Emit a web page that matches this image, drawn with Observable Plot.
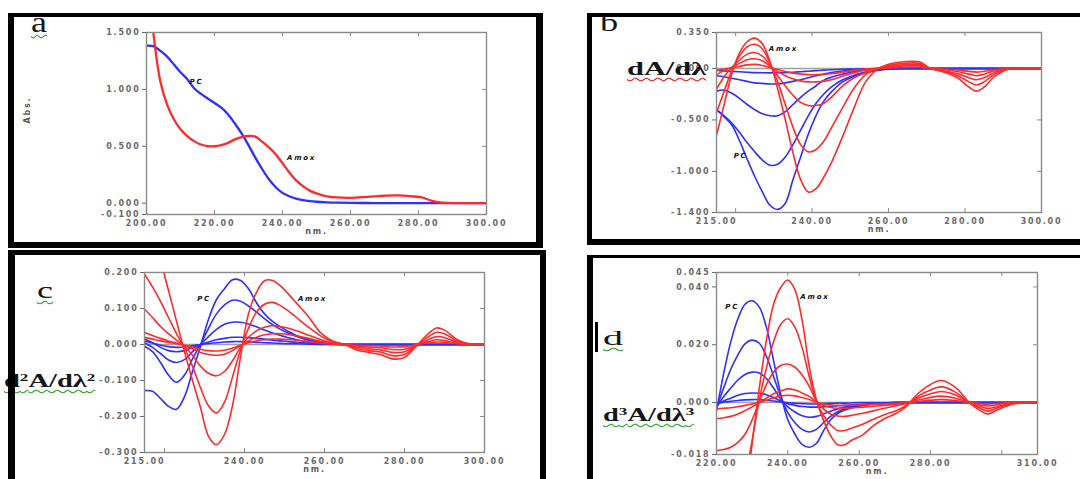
<!DOCTYPE html>
<html><head><meta charset="utf-8">
<script src="https://cdn.jsdelivr.net/npm/d3@7"></script>
<script src="https://cdn.jsdelivr.net/npm/@observablehq/plot@0.6"></script>
<style>
html,body{margin:0;padding:0;background:#fff;}
#page{position:relative;width:1080px;height:479px;overflow:hidden;background:#fff;}
.pw{position:absolute;z-index:2;}
.box{position:absolute;border-style:solid;border-color:#000;box-sizing:border-box;z-index:6;pointer-events:none;}
.lab{position:absolute;font-family:"Liberation Serif","DejaVu Serif",serif;color:#151515;white-space:nowrap;z-index:4;line-height:1;transform-origin:0 0;}
.wg{text-decoration:underline wavy #2ca02c;text-decoration-thickness:1px;text-underline-offset:2px;}
.wr{text-decoration:underline wavy #e02020;text-decoration-thickness:1px;text-underline-offset:2px;}
.lab sup{font-size:0.6em;vertical-align:0.55em;line-height:0;}
</style>
</head><body>
<div id="page"></div>
<script>
// ---------------- data ----------------
// panel a : absorption spectra
const aX = [200,202,204,206,208,210,212,214,216,218,220,222,224,226,228,230,232,234,236,238,240,242,244,246,248,250,253,256,260,265,270,274,278,281,284,287,290,295,300];
const aAmox = [2.1,1.50,1.08,0.87,0.74,0.65,0.59,0.545,0.515,0.50,0.50,0.51,0.53,0.56,0.58,0.59,0.585,0.54,0.49,0.43,0.35,0.27,0.20,0.15,0.11,0.085,0.06,0.05,0.047,0.055,0.065,0.068,0.06,0.05,0.02,0.005,0,0,0];
const aPC = [1.385,1.38,1.34,1.29,1.22,1.15,1.09,1.01,0.96,0.92,0.88,0.84,0.78,0.70,0.61,0.51,0.40,0.30,0.21,0.14,0.09,0.06,0.04,0.027,0.018,0.012,0.007,0.004,0.002,0.001,0,0,0,0,0,0,0,0,0];
const aYTicks = [1.5,1.0,0.5,0.0,-0.1];
const aXLabels = [200,220,240,260,280,300];
const aXInner = [220,240,260,280];
const aNotes = [{x:214.7,y:1.07,t:"PC"},{x:245.6,y:0.40,t:"Amox"}];

// panel b : first derivative
const bX = [215,217,219,221,223,225,227,229,231,233,235,237,239,241,243,245,248,251,254,257,260,264,268,271,274,278,281,283,285,288,292,296,300];
const bRed1 = [-0.65,-0.35,-0.05,0.15,0.26,0.295,0.24,0.065,-0.2,-0.5,-0.82,-1.08,-1.20,-1.17,-1.06,-0.92,-0.66,-0.38,-0.13,-0.01,0.04,0.065,0.065,0.0,-0.03,-0.09,-0.18,-0.22,-0.18,-0.07,0.0,0,0];
const bRed2 = [-0.43,-0.22,-0.02,0.12,0.21,0.235,0.19,0.05,-0.13,-0.35,-0.57,-0.74,-0.81,-0.79,-0.71,-0.58,-0.38,-0.19,-0.06,0.0,0.03,0.05,0.05,0.0,-0.025,-0.07,-0.13,-0.16,-0.13,-0.05,0,0,0];
const bRed3 = [-0.20,-0.08,0.01,0.08,0.14,0.155,0.12,0.03,-0.07,-0.17,-0.26,-0.33,-0.36,-0.36,-0.34,-0.28,-0.17,-0.09,-0.04,0.0,0.02,0.035,0.035,0.0,-0.02,-0.05,-0.09,-0.11,-0.09,-0.035,0,0,0];
const bRed4 = [-0.06,-0.02,0.01,0.05,0.085,0.095,0.075,0.02,-0.03,-0.07,-0.10,-0.12,-0.13,-0.13,-0.125,-0.11,-0.075,-0.04,-0.015,0.0,0.01,0.025,0.025,0.0,-0.01,-0.03,-0.055,-0.07,-0.055,-0.02,0,0,0];
const bRed5 = [-0.02,-0.005,0.005,0.02,0.035,0.04,0.03,0.01,-0.01,-0.03,-0.045,-0.055,-0.06,-0.06,-0.058,-0.05,-0.035,-0.018,-0.006,0.0,0.005,0.012,0.012,0.0,-0.005,-0.015,-0.028,-0.035,-0.028,-0.01,0,0,0];
const bBlue1 = [-0.40,-0.47,-0.55,-0.70,-0.88,-1.05,-1.20,-1.33,-1.37,-1.31,-1.08,-0.86,-0.64,-0.46,-0.32,-0.23,-0.13,-0.075,-0.04,-0.02,-0.005,0,0,0,0,0,0,0,0,0,0,0,0];
const bBlue2 = [-0.40,-0.46,-0.53,-0.62,-0.72,-0.81,-0.89,-0.94,-0.93,-0.86,-0.74,-0.60,-0.46,-0.34,-0.25,-0.18,-0.11,-0.065,-0.035,-0.015,-0.005,0,0,0,0,0,0,0,0,0,0,0,0];
const bBlue3 = [-0.22,-0.21,-0.24,-0.29,-0.35,-0.40,-0.44,-0.46,-0.46,-0.42,-0.35,-0.28,-0.22,-0.17,-0.115,-0.085,-0.055,-0.03,-0.015,-0.007,-0.002,0,0,0,0,0,0,0,0,0,0,0,0];
const bBlue4 = [-0.07,-0.08,-0.095,-0.11,-0.125,-0.14,-0.145,-0.15,-0.15,-0.14,-0.125,-0.11,-0.09,-0.07,-0.055,-0.04,-0.025,-0.015,-0.008,-0.004,0,0,0,0,0,0,0,0,0,0,0,0,0];
const bBlue5 = [-0.02,-0.024,-0.028,-0.032,-0.036,-0.04,-0.042,-0.043,-0.042,-0.04,-0.036,-0.031,-0.026,-0.021,-0.016,-0.012,-0.008,-0.005,-0.003,-0.001,0,0,0,0,0,0,0,0,0,0,0,0,0];
const bYTicks = [0.35,0.0,-0.5,-1.0,-1.4];
const bXLabels = [215,240,260,280,300];
const bXInner = [220,240,260,280];
const bNotes = [{x:232.5,y:0.19,t:"Amox"},{x:221.3,y:-0.85,t:"PC"}];

// panel c : second derivative
const cX = [215,217,219,221,223,225,227,229,231,233,235,237,239,241,243,245,247,249,251,253,256,259,262,265,268,271,274,277,280,283,286,288,290,293,296,300];
const cRed1 = [0.40,0.32,0.235,0.15,0.065,-0.02,-0.10,-0.175,-0.255,-0.278,-0.25,-0.17,-0.035,0.085,0.145,0.177,0.178,0.163,0.14,0.115,0.077,0.033,0.01,0.0,-0.015,-0.022,-0.028,-0.04,-0.036,-0.003,0.03,0.046,0.04,0.015,0.002,0];
const cRed2 = [0.195,0.16,0.12,0.075,0.03,-0.01,-0.06,-0.12,-0.17,-0.19,-0.16,-0.09,-0.015,0.045,0.09,0.112,0.117,0.108,0.093,0.075,0.048,0.024,0.008,0.0,-0.011,-0.017,-0.021,-0.031,-0.028,-0.003,0.022,0.034,0.03,0.011,0.002,0];
const cRed3 = [0.098,0.075,0.05,0.03,0.012,-0.005,-0.03,-0.06,-0.08,-0.087,-0.075,-0.045,-0.008,0.02,0.038,0.048,0.052,0.05,0.045,0.038,0.026,0.014,0.005,0,-0.007,-0.012,-0.015,-0.022,-0.02,-0.002,0.014,0.022,0.019,0.007,0.001,0];
const cRed4 = [0.033,0.025,0.017,0.01,0.004,-0.003,-0.012,-0.022,-0.028,-0.03,-0.027,-0.017,-0.003,0.01,0.02,0.027,0.03,0.03,0.028,0.024,0.017,0.009,0.003,0,-0.004,-0.007,-0.009,-0.014,-0.013,-0.001,0.008,0.013,0.011,0.004,0.001,0];
const cRed5 = [0.02,0.015,0.01,0.006,0.002,-0.002,-0.007,-0.013,-0.017,-0.018,-0.016,-0.01,-0.002,0.005,0.01,0.013,0.015,0.015,0.014,0.012,0.008,0.004,0.001,0,-0.002,-0.003,-0.004,-0.007,-0.006,0,0.004,0.007,0.006,0.002,0,0];
const cBlue1 = [-0.128,-0.13,-0.15,-0.172,-0.18,-0.145,-0.075,-0.005,0.07,0.125,0.155,0.18,0.178,0.155,0.116,0.085,0.064,0.049,0.036,0.025,0.013,0.006,0.002,0,0,0,0,0,0,0,0,0,0,0,0,0];
const cBlue2 = [-0.005,-0.02,-0.05,-0.085,-0.105,-0.085,-0.04,0.0,0.045,0.085,0.11,0.123,0.12,0.107,0.09,0.072,0.055,0.042,0.031,0.022,0.012,0.006,0.002,0,0,0,0,0,0,0,0,0,0,0,0,0];
const cBlue3 = [0.005,-0.008,-0.025,-0.043,-0.05,-0.042,-0.02,0.0,0.022,0.042,0.056,0.062,0.062,0.057,0.049,0.04,0.032,0.025,0.019,0.013,0.007,0.003,0.001,0,0,0,0,0,0,0,0,0,0,0,0,0];
const cBlue4 = [0.015,0.005,-0.008,-0.017,-0.02,-0.017,-0.008,0.0,0.007,0.013,0.017,0.02,0.02,0.019,0.017,0.015,0.012,0.01,0.008,0.006,0.004,0.002,0.001,0,0,0,0,0,0,0,0,0,0,0,0,0];
const cBlue5 = [0.01,0.004,-0.002,-0.006,-0.008,-0.007,-0.003,0,0.003,0.005,0.007,0.008,0.008,0.007,0.006,0.005,0.004,0.003,0.002,0.002,0.001,0,0,0,0,0,0,0,0,0,0,0,0,0,0,0];
const cYTicks = [0.2,0.1,0.0,-0.1,-0.2,-0.3];
const cXLabels = [215,240,260,280,300];
const cXInner = [220,240,260,280];
const cNotes = [{x:229.9,y:0.126,t:"PC"},{x:257,y:0.126,t:"Amox"}];

// panel d : third derivative
const dX = [220,222,224,226,228,230,232,234,236,238,240,242,244,246,248,250,252,254,256,258,261,264,267,270,273,276,279,283,287,291,294,296,299,303,307,310];
const dRed1 = [-0.1,-0.09,-0.075,-0.058,-0.036,-0.014,0.005,0.0215,0.034,0.0398,0.0424,0.039,0.0285,0.0125,0.001,-0.0062,-0.0115,-0.0146,-0.0146,-0.013,-0.0112,-0.008,-0.0057,-0.004,-0.0016,0.0025,0.0055,0.0076,0.0052,-0.0002,-0.0028,-0.004,-0.0024,-0.0006,0,0];
const dRed2 = [-0.07,-0.062,-0.052,-0.04,-0.027,-0.013,0.001,0.012,0.021,0.027,0.029,0.026,0.019,0.009,0.0005,-0.0045,-0.0078,-0.0097,-0.0097,-0.0088,-0.0075,-0.0058,-0.0042,-0.003,-0.0012,0.0018,0.0038,0.0054,0.0036,-0.0002,-0.002,-0.003,-0.0017,-0.0004,0,0];
const dRed3 = [-0.0167,-0.0163,-0.0155,-0.0138,-0.011,-0.006,0.0003,0.0062,0.0105,0.0128,0.0133,0.0122,0.0095,0.0056,0.0007,-0.0022,-0.004,-0.0047,-0.0048,-0.0044,-0.0037,-0.0029,-0.002,-0.0012,-0.0004,0.0012,0.0026,0.0038,0.0026,-0.0001,-0.0014,-0.0021,-0.0013,-0.0002,0,0];
const dRed4 = [-0.0056,-0.0053,-0.0048,-0.004,-0.0028,-0.0015,0.0,0.0015,0.003,0.004,0.0047,0.0043,0.0033,0.0021,0.0003,-0.001,-0.0017,-0.002,-0.002,-0.0019,-0.0016,-0.0013,-0.001,-0.0006,-0.0002,0.0007,0.0015,0.0022,0.0015,0,-0.0008,-0.0012,-0.0007,-0.0001,0,0];
const dRed5 = [-0.0022,-0.002,-0.0018,-0.0015,-0.001,-0.0005,0.0,0.0008,0.0016,0.0022,0.0025,0.0023,0.0017,0.001,0.0001,-0.0005,-0.0008,-0.001,-0.001,-0.0009,-0.0008,-0.0006,-0.0005,-0.0003,-0.0001,0.0003,0.0007,0.001,0.0007,0,-0.0004,-0.0006,-0.0003,0,0,0];
const dBlue1 = [-0.003,0.010,0.021,0.029,0.034,0.0352,0.033,0.026,0.0145,0.003,-0.006,-0.011,-0.0145,-0.0155,-0.0142,-0.0098,-0.006,-0.0038,-0.0026,-0.0018,-0.001,-0.0005,-0.0003,0,0,0,0,0,0,0,0,0,0,0,0,0];
const dBlue2 = [-0.002,0.005,0.0115,0.0165,0.0203,0.0216,0.0205,0.016,0.009,0.002,-0.0035,-0.007,-0.0093,-0.0102,-0.0093,-0.007,-0.0048,-0.0032,-0.0022,-0.0015,-0.0009,-0.0005,-0.0002,0,0,0,0,0,0,0,0,0,0,0,0,0];
const dBlue3 = [-0.0015,0.002,0.005,0.0078,0.0097,0.0105,0.0102,0.0083,0.005,0.0012,-0.0015,-0.0033,-0.0046,-0.0051,-0.0048,-0.004,-0.003,-0.0022,-0.0016,-0.0012,-0.0007,-0.0004,-0.0002,0,0,0,0,0,0,0,0,0,0,0,0,0];
const dBlue4 = [-0.0008,0.0005,0.0015,0.0025,0.0031,0.0033,0.0032,0.0027,0.0017,0.0006,-0.0004,-0.001,-0.0014,-0.0016,-0.0016,-0.0015,-0.0013,-0.0011,-0.001,-0.0008,-0.0006,-0.0004,-0.0002,0,0,0,0,0,0,0,0,0,0,0,0,0];
const dBlue5 = [-0.0003,0.0001,0.0004,0.0007,0.0009,0.001,0.001,0.0008,0.0005,0.0002,-0.0001,-0.0003,-0.0004,-0.0005,-0.0005,-0.0004,-0.0003,-0.0002,-0.0002,-0.0001,0,0,0,0,0,0,0,0,0,0,0,0,0,0,0,0];
const dYTicks = [0.045,0.04,0.02,0.0,-0.018];
const dXLabels = [220,240,260,280,310];
const dXInner = [240,260,280,300];
const dNotes = [{x:224.4,y:0.033,t:"PC"},{x:247.6,y:0.0367,t:"Amox"}];

// ---------------- drawing ----------------
const RED = "#ff2b2b", BLUE = "#2f2fff", AXIS = "#8a8a8a";
const page = document.getElementById("page");

function makePanel(o) {
  const fw = o.w - o.ml - o.mr, fh = o.h - o.mt - o.mb;
  const rows = list => list.flatMap((vals, k) => o.grid.map((x, i) => ({x, y: vals[i], k})));
  const yInner = o.yTicks.filter(v => v > o.yDomain[0] && v < o.yDomain[1]);
  const marks = [
    Plot.axisY({ticks: o.yTicks, tickSize: 4, tickPadding: 2, tickFormat: d => d.toFixed(3), label: null}),
    Plot.axisX({ticks: o.xLabels, tickSize: 0, tickPadding: 6, tickFormat: d => d.toFixed(2), label: null}),
    Plot.tickX(o.xInner, {x: d => d, stroke: AXIS, insetTop: fh - 4}),
    Plot.tickX(o.xInner, {x: d => d, stroke: AXIS, insetBottom: fh - 4}),
    Plot.tickY(yInner, {y: d => d, stroke: AXIS, insetLeft: fw - 4})
  ];
  if (o.zero) marks.push(Plot.ruleY([0], {stroke: "#a0a0a0", strokeWidth: 1.4}));
  marks.push(Plot.line(rows(o.blues), {x: "x", y: "y", z: "k", stroke: BLUE, strokeWidth: o.sw, curve: "catmull-rom", clip: true}));
  marks.push(Plot.line(rows(o.reds), {x: "x", y: "y", z: "k", stroke: RED, strokeWidth: o.sw, curve: "catmull-rom", clip: true}));
  marks.push(Plot.frame({stroke: AXIS, strokeWidth: 1.4}));
  marks.push(Plot.text(o.notes, {x: "x", y: "y", text: "t", fontSize: 7, fontWeight: "bold", fontStyle: "italic", fill: "#111", ariaLabel: "note"}));
  marks.push(Plot.text(["nm."], {text: d => d, frameAnchor: "bottom", dy: 19, fill: "#5a5a5a"}));
  if (o.ylabel) marks.push(Plot.text([o.ylabel], {text: d => d, frameAnchor: "left", dx: -119, rotate: -90, fill: "#5a5a5a"}));
  const svg = Plot.plot({
    width: o.w, height: o.h,
    marginLeft: o.ml, marginRight: o.mr, marginTop: o.mt, marginBottom: o.mb,
    x: {domain: o.xDomain}, y: {domain: o.yDomain},
    style: {background: "transparent", fontFamily: "DejaVu Sans", fontSize: "8px", fontWeight: "bold", color: "#6a6a6a", letterSpacing: "1.8px", overflow: "visible"},
    marks
  });
  svg.querySelectorAll('g[aria-label="note"] text').forEach(t => t.style.letterSpacing = "3.4px");
  const wrap = document.createElement("div");
  wrap.className = "pw";
  wrap.style.left = o.left + "px"; wrap.style.top = o.top + "px";
  wrap.appendChild(svg);
  page.appendChild(wrap);
}

makePanel({left: 0, top: 0, w: 545, h: 250, ml: 146, mr: 59, mt: 32, mb: 36,
  grid: aX, reds: [aAmox], blues: [aPC], xDomain: [200, 300], yDomain: [-0.1, 1.5],
  yTicks: aYTicks, xLabels: aXLabels, xInner: aXInner, notes: aNotes, zero: false, sw: 2.3, ylabel: "Abs."});
makePanel({left: 590, top: 0, w: 490, h: 245, ml: 126, mr: 39, mt: 32, mb: 33,
  grid: bX, reds: [bRed1, bRed2, bRed3, bRed4, bRed5], blues: [bBlue1, bBlue2, bBlue3, bBlue4, bBlue5],
  xDomain: [215, 300], yDomain: [-1.4, 0.35], yTicks: bYTicks, xLabels: bXLabels, xInner: bXInner, notes: bNotes, zero: true, sw: 1.6});
makePanel({left: 0, top: 250, w: 545, h: 229, ml: 144, mr: 61, mt: 22, mb: 27,
  grid: cX, reds: [cRed1, cRed2, cRed3, cRed4, cRed5], blues: [cBlue1, cBlue2, cBlue3, cBlue4, cBlue5],
  xDomain: [215, 300], yDomain: [-0.3, 0.2], yTicks: cYTicks, xLabels: cXLabels, xInner: cXInner, notes: cNotes, zero: true, sw: 1.6});
makePanel({left: 590, top: 255, w: 490, h: 224, ml: 126, mr: 43, mt: 17, mb: 25,
  grid: dX, reds: [dRed1, dRed2, dRed3, dRed4, dRed5], blues: [dBlue1, dBlue2, dBlue3, dBlue4, dBlue5],
  xDomain: [220, 310], yDomain: [-0.018, 0.045], yTicks: dYTicks, xLabels: dXLabels, xInner: dXInner, notes: dNotes, zero: true, sw: 1.6});

// panel borders
function box(l, t, r, b, bw) {
  const d = document.createElement("div");
  d.className = "box";
  d.style.left = l + "px"; d.style.top = t + "px";
  d.style.width = (r - l) + "px"; d.style.height = (b - t) + "px";
  d.style.borderWidth = bw;
  page.appendChild(d);
}
box(8, 13, 543, 248, "4px 7px 6px 6px");
box(587, 13, 1095, 245, "4px 6px 6px 5px");
box(8, 250, 546, 495, "5px 6px 6px 7px");
box(587, 255, 1095, 495, "3px 6px 6px 6px");

// panel letters and derivative labels
function label(html, l, t, size, sx, cls, bold) {
  const d = document.createElement("div");
  d.className = "lab" + (cls ? " " + cls : "");
  d.innerHTML = html;
  d.style.left = l + "px"; d.style.top = t + "px";
  d.style.fontSize = size + "px";
  d.style.transform = "scaleX(" + sx + ")";
  if (bold) d.style.fontWeight = "bold";
  page.appendChild(d);
}
label("a", 31, 7, 30, 1.2, "wg");
label("b", 600, 10, 26, 1.4, "");
label("c", 37, 278, 24, 1.5, "wg");
label("d", 603, 328, 20, 2.0, "wg");
label("dA/dλ", 627, 59, 19, 1.6, "wr", true);
label("d<sup>2</sup>A/dλ<sup>2</sup>", 4, 371, 19, 1.5, "wg", true);
label("d<sup>3</sup>A/dλ<sup>3</sup>", 603, 405, 19, 1.5, "wg", true);
const bar = document.createElement("div");
bar.style.cssText = "position:absolute;left:595px;top:322px;width:3px;height:30px;background:#000;z-index:4;";
page.appendChild(bar);
</script>
</body></html>
